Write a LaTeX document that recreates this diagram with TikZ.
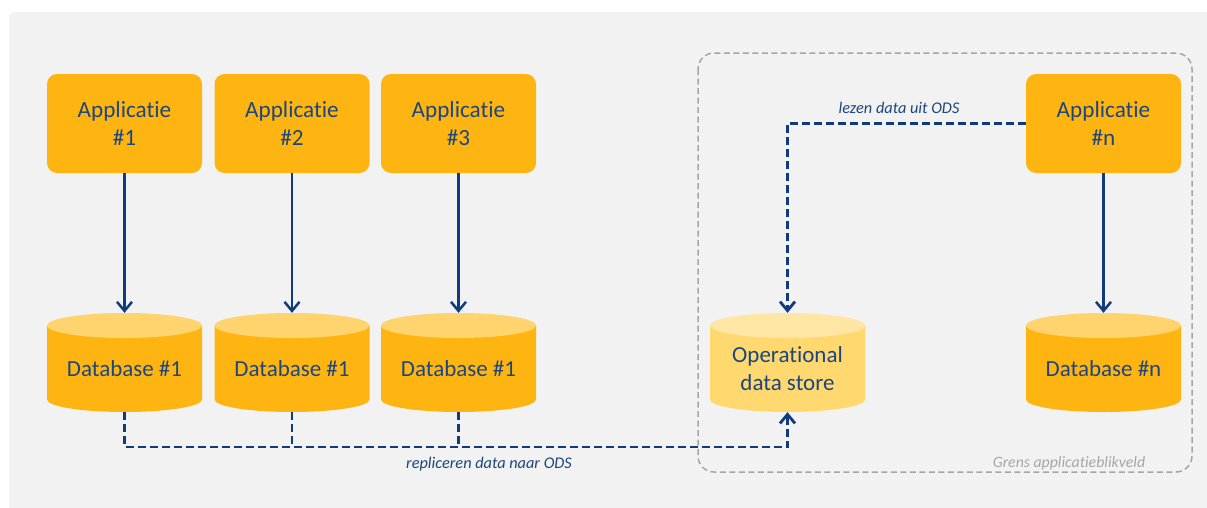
\documentclass[tikz,border=0pt]{standalone}
\usepackage{fontspec}
\setmainfont{Carlito}[Ligatures={NoCommon}]
\usetikzlibrary{arrows.meta}
\definecolor{panel}{RGB}{242,242,242}
\definecolor{appfill}{RGB}{255,181,17}
\definecolor{dbtop}{RGB}{255,211,110}
\definecolor{odsbody}{RGB}{255,217,112}
\definecolor{odstop}{RGB}{255,230,165}
\definecolor{navy}{RGB}{16,60,125}
\definecolor{txtblue}{RGB}{28,70,125}
\definecolor{bordergray}{RGB}{166,166,166}
\tikzset{
  appbox/.style={fill=appfill, rounded corners=10pt, minimum width=155pt, minimum height=99pt,
    align=center, text=txtblue, font=\fontsize{23.2}{28}\selectfont, inner sep=0pt},
  dbframe/.style={minimum width=155pt, minimum height=99pt, inner sep=0pt},
  dblabel/.style={align=center, text=txtblue, font=\fontsize{23}{28}\selectfont},
  solidflow/.style={draw=navy, line width=2.5pt, -{Straight Barb[length=9pt,width=15pt]}},
  dashflow/.style={draw=navy, line width=2.8pt, dash pattern=on 8pt off 4pt},
  flowlabel/.style={text=txtblue, font=\fontsize{16.3}{18}\selectfont\itshape},
  scopebox/.style={draw=bordergray, line width=1.5pt, dash pattern=on 6pt off 3.5pt, rounded corners=16pt},
  scopelabel/.style={text=bordergray, font=\fontsize{15.8}{18}\selectfont\itshape},
}
% cylinder: #1 name, #2 centre x, #3 body colour, #4 top colour, #5 text
\newcommand\drawcyl[5]{%
  \node[dbframe] (#1) at (#2,362.5) {};
  \fill[#3] (#2-77.5,325.5) -- (#2-77.5,399.5) arc[start angle=180,end angle=360,x radius=77.5pt,y radius=12.5pt]
     -- (#2+77.5,325.5) -- cycle;
  \fill[#4] (#2,325.5) ellipse[x radius=77.5pt,y radius=12.5pt];
  \node[dblabel] at (#2,369) {#5};
}
\begin{document}
\begin{tikzpicture}[x=1pt,y=-1pt]
\useasboundingbox (0,0) rectangle (1207,507);
\begin{scope}
  \clip (0,0) rectangle (1207,507);
  \fill[panel, rounded corners=6pt] (9,12) rectangle (1230,530);
\end{scope}

% application boundary
\draw[scopebox] (698,53) rectangle (1192,472);
\node[scopelabel] (grens) at (1069,463) {Grens applicatieblikveld};

% applications
\node[appbox] (app1) at (124.5,123.5) {Applicatie\\\#1};
\node[appbox] (app2) at (292,123.5) {Applicatie\\\#2};
\node[appbox] (app3) at (458.5,123.5) {Applicatie\\\#3};
\node[appbox] (appn) at (1103.5,123.5) {Applicatie\\\#n};

% databases
\drawcyl{db1}{124.5}{appfill}{dbtop}{Database \#1}
\drawcyl{db2}{292}{appfill}{dbtop}{Database \#1}
\drawcyl{db3}{458.5}{appfill}{dbtop}{Database \#1}
\drawcyl{ods}{787.5}{odsbody}{odstop}{Operational\\data store}
\drawcyl{dbn}{1103.5}{appfill}{dbtop}{Database \#n}

% application -> own database
\draw[solidflow] (app1) -- (db1);
\draw[solidflow] (app2) -- (db2);
\draw[solidflow] (app3) -- (db3);
\draw[solidflow] (appn) -- (dbn);

% replication to the ODS
\coordinate (bus) at (0,447);
\draw[dashflow, -{Straight Barb[length=9pt,width=15pt]}]
  (db1.south) -- (db1.south |- bus) -- (ods.south |- bus) -- (ods.south);
\draw[dashflow] (db2.south) -- (db2.south |- bus);
\draw[dashflow] (db3.south) -- (db3.south |- bus);
\node[flowlabel] (repl) at (489,464) {repliceren data naar ODS};

% reading from the ODS
\draw[dashflow, -{Straight Barb[length=9pt,width=15pt]}]
  (appn.west) -- (appn.west -| ods.north) -- (ods.north);
\node[flowlabel] (lezen) at (899,108) {lezen data uit ODS};
\end{tikzpicture}
\end{document}
